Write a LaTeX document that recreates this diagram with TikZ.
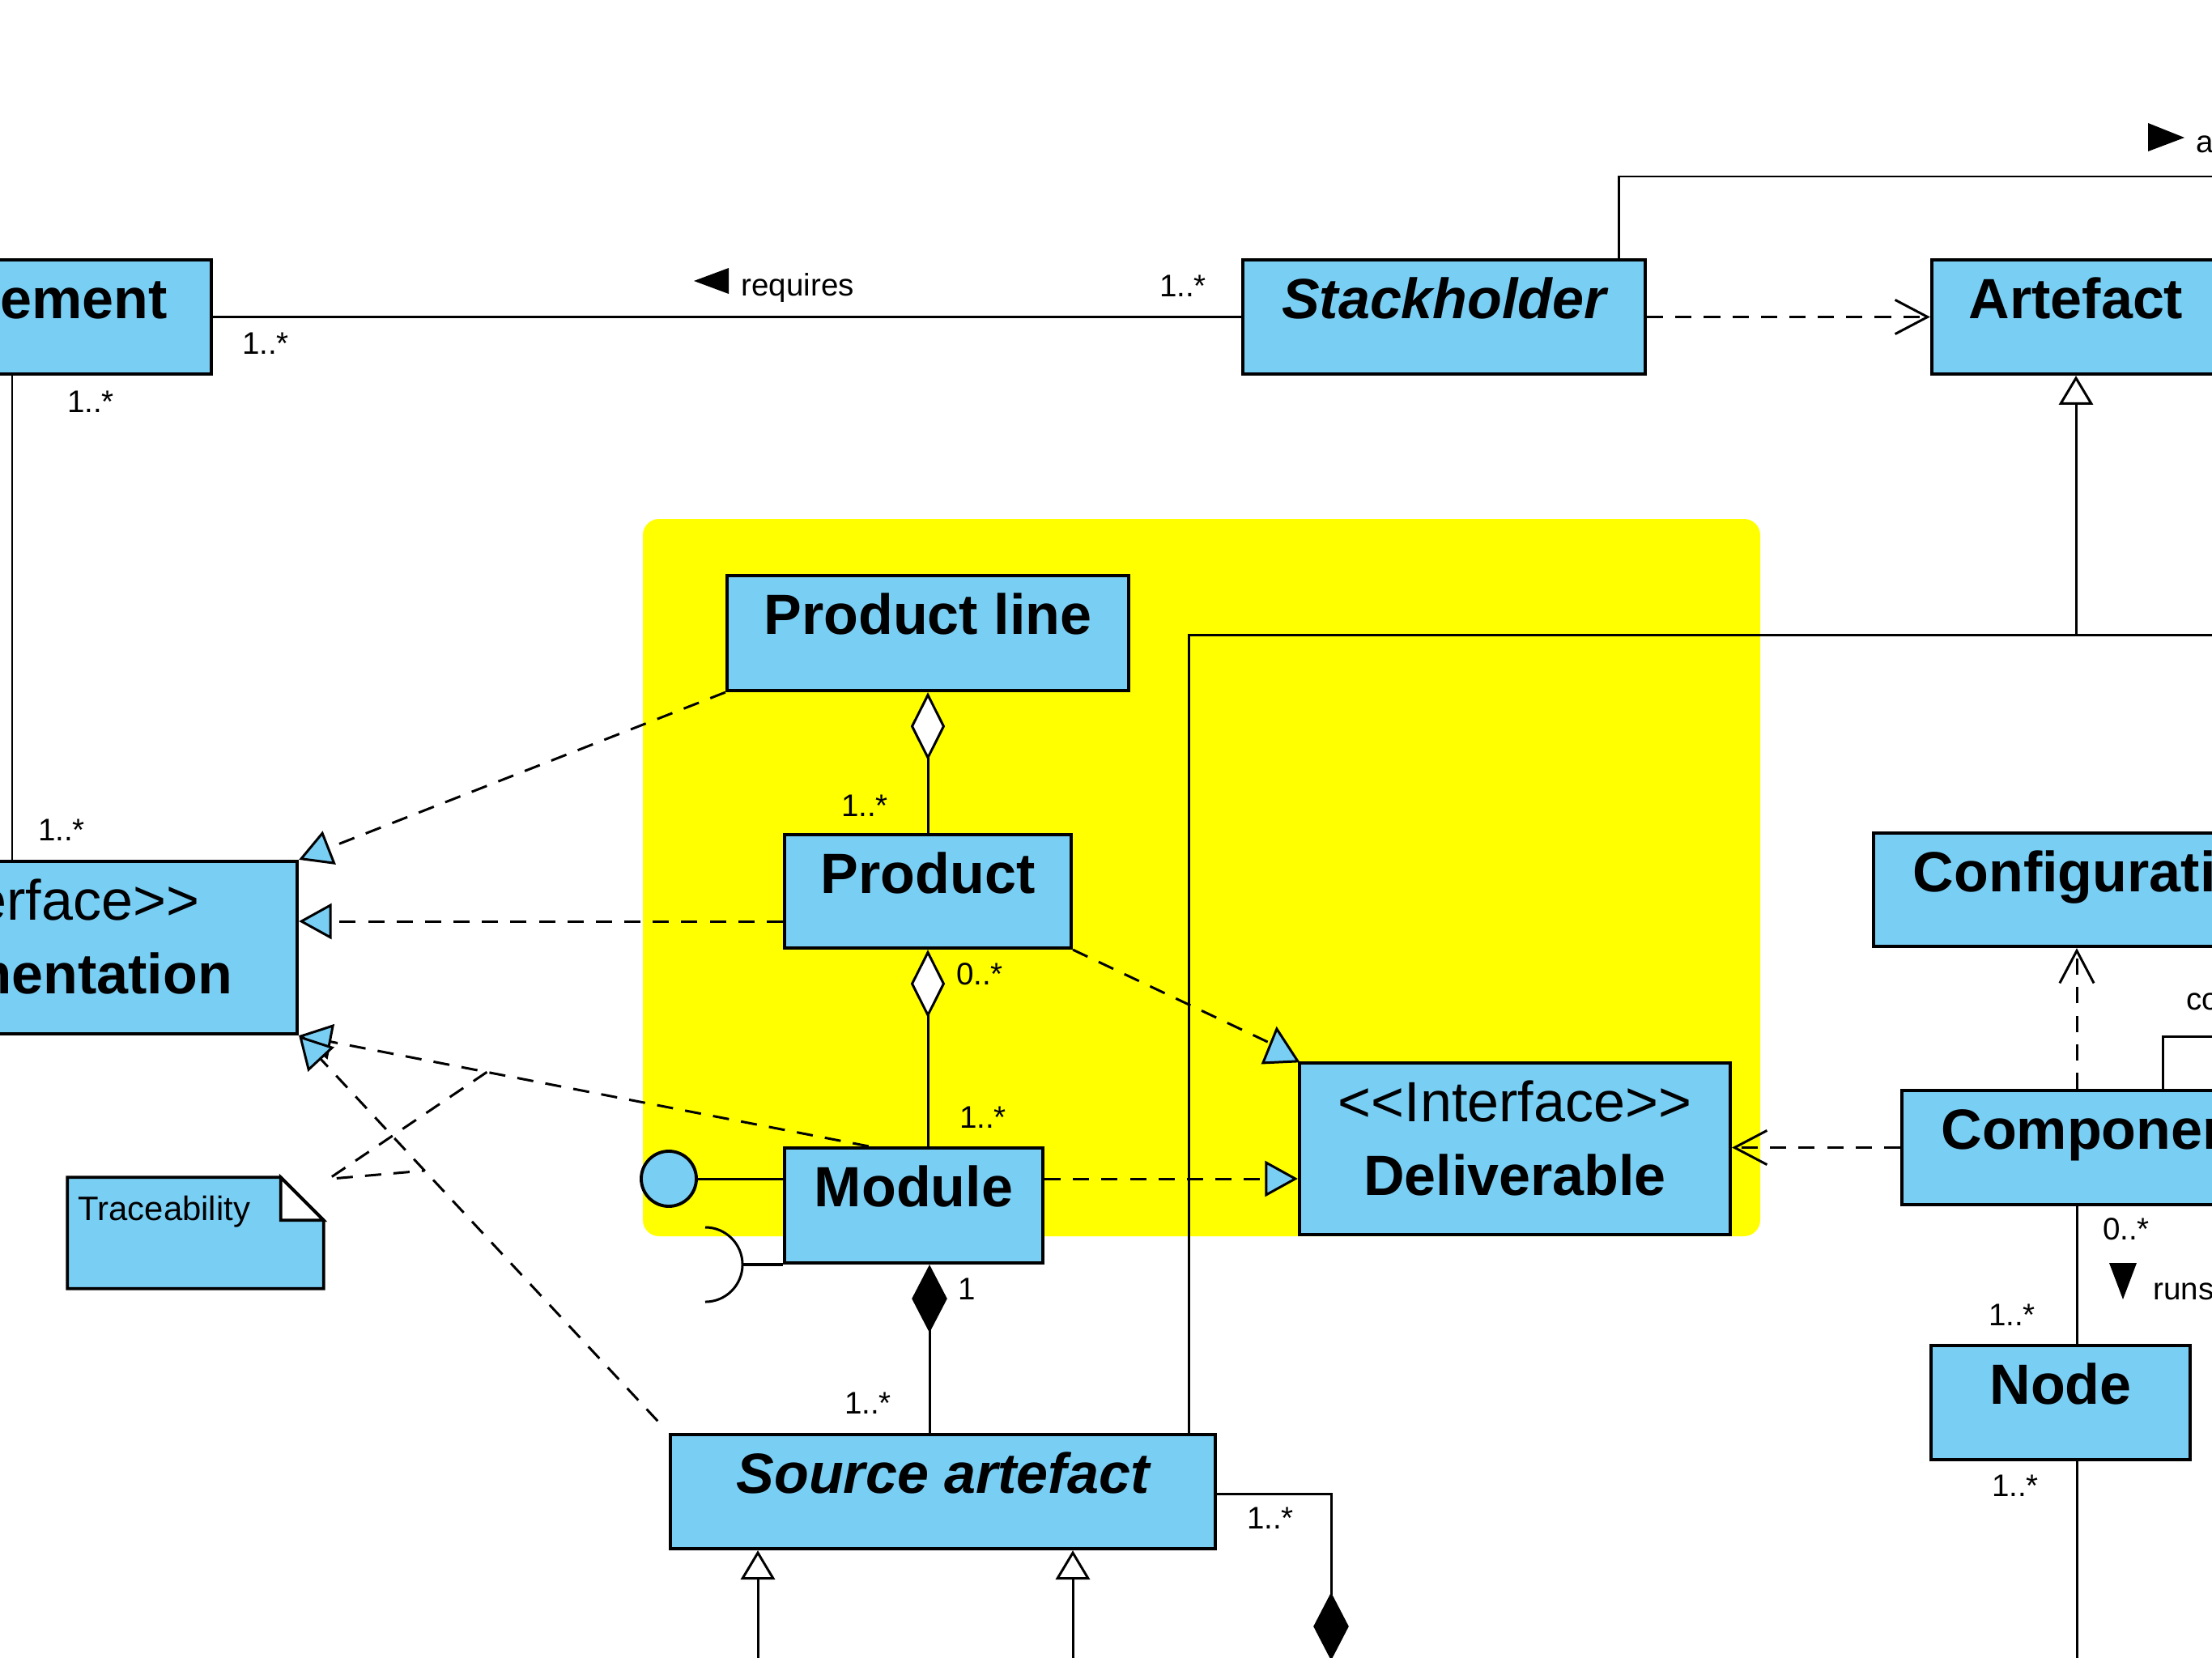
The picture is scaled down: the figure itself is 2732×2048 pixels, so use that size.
\documentclass[tikz,border=0pt]{standalone}
\usepackage{fontspec}
\setmainfont{Liberation Sans}
\usetikzlibrary{arrows.meta,fit,calc}
\definecolor{clsblue}{HTML}{79CEF4}
\definecolor{areayellow}{HTML}{FFFF00}
\newcommand{\clsfont}{\fontsize{19.92pt}{24pt}\selectfont}
\newcommand{\multfont}{\fontsize{10.96pt}{13pt}\selectfont}
\newcommand{\notefnt}{\fontsize{11.9pt}{14pt}\selectfont}
\tikzset{
  cls/.style={draw=black, line width=1.2pt, fill=clsblue, rectangle, inner sep=0pt},
  ctext/.style={anchor=base, inner sep=0pt, font=\clsfont\bfseries},
  citext/.style={anchor=base, inner sep=0pt, font=\clsfont\bfseries\itshape},
  cstereo/.style={anchor=base, inner sep=0pt, font=\clsfont},
  mult/.style={inner sep=0pt, font=\multfont},
  conn/.style={line width=0.85pt},
  dashconn/.style={conn, dash pattern=on 5.7pt off 4.3pt},
  Real/.tip={Triangle[length=11.5pt, width=12.5pt, fill=clsblue]},
  Gen/.tip={Triangle[length=10.2pt, width=12pt, fill=white]},
  Dep/.tip={Straight Barb[length=11.4pt, width=12pt]},
  Agg/.tip={Diamond[length=23.9pt, width=12pt, fill=white]},
  Comp/.tip={Diamond[length=23.9pt, width=12.4pt]}
}
\begin{document}
\begin{tikzpicture}[x=0.01cm, y=-0.01cm]
\useasboundingbox (0,0) rectangle (2732,2048);
\clip (0,0) rectangle (2732,2048);
\fill[white] (0,0) rectangle (2732,2048);
% package area
\fill[areayellow, rounded corners=0.2cm] (794,641) rectangle (2174,1527);

% class boxes
\node[cls, fit={(-275,321) (261,462)}] (req) {};
\node[cls, fit={(1535,321) (2032,462)}] (stak) {};
\node[cls, fit={(2386,321) (2742,462)}] (art) {};
\node[cls, fit={(898,711) (1394,853)}] (prodline) {};
\node[cls, fit={(969,1031) (1323,1171)}] (prod) {};
\node[cls, fit={(969,1418) (1288,1560)}] (mod) {};
\node[cls, fit={(1605,1313) (2137,1525)}] (deliv) {};
\node[cls, fit={(-311,1064) (367,1277)}] (impl) {};
\node[cls, fit={(828,1772) (1501,1913)}] (src) {};
\node[cls, fit={(2314,1029) (2871,1169)}] (config) {};
\node[cls, fit={(2349,1347) (2835,1488)}] (comp) {};
\node[cls, fit={(2385,1662) (2705,1803)}] (nd) {};

% class names
\node[ctext] (req-t) at ($(req.north)+(0,75)$) {Requirement};
\node[citext] (stak-t) at ($(stak.north)+(0,75)$) {Stackholder};
\node[ctext] (art-t) at ($(art.north)+(0,75)$) {Artefact};
\node[ctext] (prodline-t) at ($(prodline.north)+(0,75)$) {Product line};
\node[ctext] (prod-t) at ($(prod.north)+(0,75)$) {Product};
\node[ctext] (mod-t) at ($(mod.north)+(0,75)$) {Module};
\node[cstereo] (deliv-s) at ($(deliv.north)+(0,75)$) {<\kern0pt<Interface>\kern0pt>};
\node[ctext] (deliv-t) at ($(deliv.north)+(0,166)$) {Deliverable};
\node[cstereo] (impl-s) at ($(impl.north)+(0,75)$) {<\kern0pt<Interface>\kern0pt>};
\node[ctext] (impl-t) at ($(impl.north)+(0,166)$) {Implementation};
\node[citext] (src-t) at ($(src.north)+(0,75)$) {Source artefact};
\node[ctext] (config-t) at ($(config.north)+(0,75)$) {Configuration};
\node[ctext] (comp-t) at ($(comp.north)+(0,75)$) {Component};
\node[ctext] (nd-t) at ($(nd.north)+(0,75)$) {Node};

% note
\node[inner sep=0pt, fit={(84,1455) (399,1591)}] (note) {};
\filldraw[line width=1.1pt, fill=clsblue, line join=miter] (note.north west) -- ($(note.north east)+(-53,0)$) -- ($(note.north east)+(0,53)$) -- (note.south east) -- (note.south west) -- cycle;
\filldraw[line width=1.1pt, fill=white, line join=miter] ($(note.north east)+(-53,0)$) -- ($(note.north east)+(-53,53)$) -- ($(note.north east)+(0,53)$) -- cycle;
\node[anchor=base west, inner sep=0pt, font=\notefnt] (note-t) at (96,1507) {Traceability};

% provided / required interfaces of Module
\node[circle, draw, line width=1.1pt, fill=clsblue, minimum size=0.68cm, inner sep=0pt] (lolli) at (826,1456) {};
\draw[conn] (lolli.east) -- (mod.west |- lolli.east);
\coordinate (sock) at (917,1562);
\draw[conn] (871,1516) arc[start angle=90, end angle=-90, radius=0.46cm];
\draw[line width=1.1pt] (sock) -- (mod.west |- sock);

% Requirement -- Stackholder
\draw[conn] (req.east) -- (stak.west);
\node[mult] (m1) at (328,424) {1..*};
\node[mult] (m2) at (1461,353) {1..*};
\fill (857,347) -- (900,331) -- (900,363) -- cycle;
\node[mult, anchor=base west] (lbl-req) at (915,365) {requires};

% Requirement -- Implementation
\coordinate (rv) at (15,0);
\draw[conn] (rv |- req.south) -- (rv |- impl.north);
\node[mult] (m3) at (112,496) {1..*};
\node[mult] (m4) at (76,1025) {1..*};

% Stackholder -> Artefact
\draw[dashconn, -{Dep}] (stak.east) -- (art.west);

% Stackholder top association
\coordinate (sk) at (1999,218);
\coordinate (skend) at (2760,218);
\draw[conn] (sk |- stak.north) -- (sk) -- (skend);
\fill (2653,152) -- (2698,170) -- (2653,187) -- cycle;
\node[mult, anchor=base west] (lbl-a) at (2712,188) {a};

% Artefact generalization
\coordinate (hb) at (1468,784);
\coordinate (hbend) at (2760,784);
\draw[conn] (hb |- src.north) -- (hb) -- (hbend);
\draw[conn, -{Gen}] (art.south |- hb) -- (art.south);

% Product line <>-- Product
\draw[conn, {Agg}-] (prodline.south) -- (prod.north);
\node[mult] (m5) at (1068,995) {1..*};

% Product <>-- Module
\draw[conn, {Agg}-] (prod.south) -- (prod.south |- mod.north);
\node[mult] (m6) at (1210,1203) {0..*};
\node[mult] (m7) at (1214,1380) {1..*};

% Module <#>-- Source artefact
\coordinate (mx) at (1148,0);
\draw[conn, {Comp}-] (mx |- mod.south) -- (mx |- src.north);
\node[mult] (m8) at (1194,1592) {1};
\node[mult] (m9) at (1072,1733) {1..*};

% Module -> Deliverable
\coordinate (my) at (0,1456);
\draw[dashconn, -{Real}] (mod.east |- my) -- (deliv.west |- my);

% Product -> Deliverable
\coordinate (pdtip) at (1572,1290);
\draw[dashconn] (prod.south east) -- (pdtip);
\filldraw[conn, fill=clsblue, line join=miter] ($(deliv.north west)+(-26,-40)$) -- ($(deliv.north west)+(-43,2)$) -- (deliv.north west) -- cycle;

% realizations of Implementation
\draw[dashconn, -{Real}] (prodline.south west) -- (impl.north east);
\coordinate (py) at (0,1138);
\draw[dashconn, -{Real}] (prod.west |- py) -- (impl.east |- py);
\coordinate (ms) at ($(mod.north west)+(106,0)$);
\draw[dashconn, -{Real}] (ms) -- (impl.south east);
\draw[dashconn, -{Real}, shorten <=0.2cm] (src.north west) -- (impl.south east);

% note links
\coordinate (nc1) at ($(ms)!0.67!(impl.south east)$);
\coordinate (nc2) at ($(src.north west)!0.66!(impl.south east)$);
\coordinate (na) at ($(note.north east)+(6,2)$);
\draw[dashconn] (nc1) -- (na) -- (nc2);

% Source artefact right association
\coordinate (sr) at (1644,1845);
\coordinate (srend) at (1644,2051);
\draw[conn, -{Comp}] (src.east |- sr) -- (sr) -- (srend);
\node[mult] (m10) at (1569,1875) {1..*};

% Source artefact generalizations
\coordinate (g1) at (936,2060);
\coordinate (g2) at (1325,2060);
\draw[conn, -{Gen}] (g1) -- (g1 |- src.south);
\draw[conn, -{Gen}] (g2) -- (g2 |- src.south);

% Component
\coordinate (cx) at (2565,0);
\draw[dashconn, -{Dep}] (cx |- comp.north) -- (cx |- config.south);
\draw[dashconn, -{Dep}] (comp.west) -- (deliv.east |- comp.west);
\coordinate (cc) at (2671,1280);
\coordinate (ccend) at (2760,1280);
\draw[conn] (cc |- comp.north) -- (cc) -- (ccend);
\node[mult, anchor=base west] (lbl-co) at (2700,1247) {co};
\draw[conn] (cx |- comp.south) -- (cx |- nd.north);
\node[mult] (m11) at (2626,1518) {0..*};
\fill (2605,1560) -- (2639,1560) -- (2622,1605) -- cycle;
\node[mult, anchor=base west] (lbl-runs) at (2659,1605) {runs};
\node[mult] (m12) at (2485,1624) {1..*};
\coordinate (ndend) at (2565,2060);
\draw[conn] (cx |- nd.south) -- (ndend);
\node[mult] (m13) at (2489,1835) {1..*};
\end{tikzpicture}
\end{document}
